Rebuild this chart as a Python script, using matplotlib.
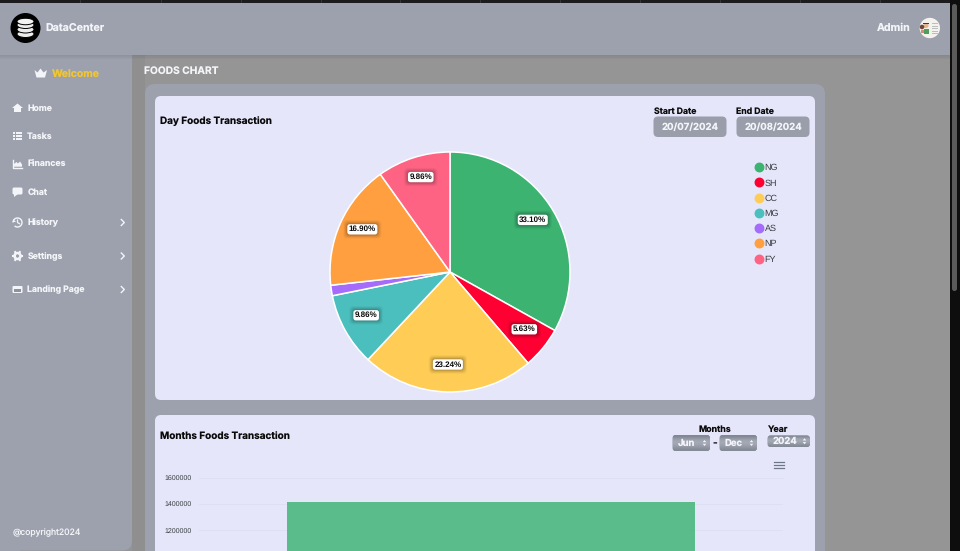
import numpy as np
import matplotlib
matplotlib.use("Agg")
import matplotlib.pyplot as plt
from matplotlib.patches import FancyBboxPatch, Rectangle, Circle, Polygon, Ellipse, Arc
from matplotlib.lines import Line2D

plt.rcParams['font.family'] = ['Inter', 'DejaVu Sans']
plt.rcParams['text.hinting'] = 'no_hinting'
plt.rcParams['text.hinting_factor'] = 1

# --- data ---
pie_labels = ['NG', 'SH', 'CC', 'MG', 'AS', 'NP', 'FY']
pie_values = [33.10, 5.63, 23.24, 9.86, 1.41, 16.90, 9.86]
pie_colors = ['#3CB371', '#FF0033', '#FFCC55', '#4BBFBD', '#A56BFA', '#FF9F40', '#FF6384']
bar_categories = ['Jun-Dec']
bar_values = [1415000]
y_ticks = [1200000, 1400000, 1600000]
menu_items = ['Home', 'Tasks', 'Finances', 'Chat', 'History', 'Settings', 'Landing Page']
menu_y = [108, 136, 164, 192, 222.5, 256, 289.5]

W, H = 960, 551
fig = plt.figure(figsize=(W/100, H/100), dpi=100, facecolor='#959595')
bg = fig.add_axes([0, 0, 1, 1], zorder=0)
bg.set_xlim(0, W); bg.set_ylim(H, 0); bg.axis('off')

GRAY = '#9CA1AD'; CARD = '#E5E6FA'; WHITE = '#F4F5F9'

def px(s):
    return s * 0.72

def rbox(ax, x0, y0, x1, y1, r, fc, z=1, ec='none', alpha=None):
    p = FancyBboxPatch((x0 + r, y0 + r), x1 - x0 - 2*r, y1 - y0 - 2*r,
                       boxstyle=f'round,pad={r},rounding_size={r}',
                       fc=fc, ec=ec, lw=0, zorder=z, alpha=alpha)
    ax.add_patch(p)
    return p

def txt(x, y, s, size, color='#111111', weight='bold', ha='left', ax=None, z=10):
    (ax or bg).text(x, y + 0.8, s, fontsize=px(size), color=color, fontweight=weight,
                    ha=ha, va='center', zorder=z)

# page frame
bg.add_patch(Rectangle((0, 0), W, 3, fc='#1c1c1e', ec='none', zorder=1))
for x in [80, 161, 241, 321, 400, 480, 560, 640, 720, 800, 880]:
    bg.plot([x, x], [0, 3], color='#3A3A3A', lw=0.6, zorder=1.1)
bg.add_patch(Rectangle((950, 0), 10, H, fc='#0E0E0E', ec='none', zorder=1))
rbox(bg, 952, 4, 957, 291, 2.4, '#5A5A5A', z=1.2)

# strip beside the sidebar
bg.add_patch(Rectangle((132, 55), 13, H, fc='#8F8F8F', ec='none', zorder=1))

# header + its shadow
for i in range(5):
    bg.add_patch(Rectangle((0, 54 + i), 950, 1, fc='#000000', alpha=0.10 - i*0.018, ec='none', zorder=2.4))
bg.add_patch(Rectangle((0, 3), 950, 51.5, fc=GRAY, ec='none', zorder=3))

# sidebar
bg.add_patch(Rectangle((0, 50), 132, 470, fc=GRAY, ec='none', zorder=2))
rbox(bg, 0, 500, 132, 550.5, 10, GRAY, z=2)
bg.add_patch(Rectangle((0, 500), 20, 51, fc=GRAY, ec='none', zorder=2))

# panel + cards
rbox(bg, 145, 84, 825, 590, 10, GRAY, z=1.5)
rbox(bg, 155, 96, 815, 400, 6, CARD, z=2)
rbox(bg, 155, 415, 815, 590, 6, CARD, z=2)

# logo
bg.add_patch(Circle((25.5, 28), 15, fc='#000000', ec='none', zorder=4))
for y in [34, 29.5, 25]:
    bg.add_patch(Ellipse((25.5, y), 17, 7, fc='#EDEDED', ec='#000000', lw=0.7, zorder=5))
bg.add_patch(Ellipse((25.5, 21.5), 17, 6.5, fc='#F4F4F4', ec='#000000', lw=0.7, zorder=5))
txt(45.5, 27.3, 'DataCenter', 10.6, WHITE)

# admin + avatar
txt(877, 27.3, 'Admin', 10.6, WHITE)
bg.add_patch(Circle((929.8, 28), 10.2, fc='#F4F2EE', ec='none', zorder=4))
bg.add_patch(Circle((926, 25.5), 2.6, fc='#E8B48E', ec='none', zorder=5))
bg.add_patch(Rectangle((923.3, 22.5), 5.4, 1.8, fc='#4A3A2C', ec='none', zorder=5.1))
bg.add_patch(Circle((922, 27), 2.3, fc='#6A4A38', ec='none', zorder=5))
bg.add_patch(Rectangle((924, 29), 5, 5, fc='#4E9D58', ec='none', zorder=5))
bg.add_patch(Rectangle((920.5, 29.5), 3.5, 3.5, fc='#D98A6A', ec='none', zorder=5))
for yy in [23, 25.5, 28, 30.5, 33]:
    bg.add_patch(Rectangle((932, yy), 5.5, 1.3, fc='#BDBDBD', ec='none', zorder=5))

# welcome
bg.add_patch(Polygon([(34.5, 70), (37.5, 72.5), (40.5, 68.5), (43.5, 72.5), (47, 70),
                      (45, 77.5), (36.5, 77.5)], fc=WHITE, ec='none', zorder=5))
txt(52, 73, 'Welcome', 10.4, '#F2C62F')
txt(144.5, 70.5, 'FOODS CHART', 10.2, WHITE)

# menu
for label, y in zip(menu_items, menu_y):
    txt(27.3, y - 0.6, label, 8.7, WHITE)
I = dict(fc=WHITE, ec='none', zorder=6)
# home
y = menu_y[0]
bg.add_patch(Polygon([(12, y), (17.5, y-4.5), (23, y), (21, y), (21, y+4), (14, y+4), (14, y)], **I))
# tasks
y = menu_y[1]
for d in [-3, 0, 3]:
    bg.add_patch(Rectangle((13, y+d-0.7), 2, 1.4, **I))
    bg.add_patch(Rectangle((16, y+d-0.6), 6, 1.2, **I))
# finances
y = menu_y[2]
bg.plot([13, 13, 22], [y-4, y+3.5, y+3.5], color=WHITE, lw=1, zorder=6)
bg.add_patch(Polygon([(14, y+2.7), (14, y), (16.5, y-2), (18, y-0.5), (20, y-2.5), (22, y+0.5), (22, y+2.7)], **I))
# chat
y = menu_y[3]
rbox(bg, 12.5, y-4.5, 22.5, y+2.5, 1.5, WHITE, z=6)
bg.add_patch(Polygon([(14, y+2), (14, y+5), (18, y+2)], **I))
# history
y = menu_y[4]
bg.add_patch(Arc((17.5, y), 9, 9, theta1=-180, theta2=130, color=WHITE, lw=1, zorder=6))
bg.plot([17.5, 17.5, 19.5], [y-2.5, y, y+1.2], color=WHITE, lw=0.9, zorder=6)
bg.add_patch(Polygon([(13, y-4), (13, y-1), (16, y-1)], **I))
# settings
y = menu_y[5]
bg.add_patch(Circle((17.5, y), 3, fc='none', ec=WHITE, lw=1.8, zorder=6))
for a in np.arange(0, 360, 60):
    c, s = np.cos(np.radians(a)), np.sin(np.radians(a))
    bg.plot([17.5 + 3*c, 17.5 + 4.6*c], [y + 3*s, y + 4.6*s], color=WHITE, lw=1.5, zorder=6)
# landing
y = menu_y[6]
rbox(bg, 12.5, y-3.5, 22.5, y+3.5, 1, WHITE, z=6)
bg.add_patch(Rectangle((14, y-1), 7, 3, fc='#8D929E', ec='none', zorder=7))
# chevrons
for y in menu_y[4:]:
    bg.plot([121.3, 124.3, 121.3], [y-3, y, y+3], color=WHITE, lw=1, zorder=6)

txt(12.5, 531.6, '@copyright2024', 8.6, WHITE, weight='normal')

# card headers
txt(160, 120, 'Day Foods Transaction', 9.95, '#0A0A0A')
txt(160, 436, 'Months Foods Transaction', 9.95, '#0A0A0A')
txt(653.5, 110.3, 'Start Date', 8.7, '#0A0A0A')
txt(736.5, 110.3, 'End Date', 8.7, '#0A0A0A')
for x0, x1, s in [(653.5, 726.5, '20/07/2024'), (736.5, 809.5, '20/08/2024')]:
    rbox(bg, x0, 116.5, x1, 137, 4.5, '#999EAA', z=4)
    txt((x0+x1)/2, 126.5, s, 9.6, WHITE, ha='center')

# selects
def select(x0, x1, y0, y1, s, tx):
    p = rbox(bg, x0, y0, x1, y1, 3, '#9398A4', z=4)
    g = np.array([[[0.50, 0.52, 0.57]], [[0.60, 0.62, 0.67]], [[0.65, 0.67, 0.72]],
                  [[0.63, 0.65, 0.70]], [[0.58, 0.60, 0.65]], [[0.52, 0.54, 0.59]]])
    im = bg.imshow(g, extent=(x0, x1, y1, y0), aspect='auto', zorder=4.5, interpolation='bicubic')
    im.set_clip_path(p)
    txt(tx, (y0+y1)/2 - 0.8, s, 9.5, WHITE, ha='left')
    ax_ = x1 - 5.5
    m = (y0+y1)/2
    bg.add_patch(Polygon([(ax_-1.8, m-0.8), (ax_+1.8, m-0.8), (ax_, m-3)], fc=WHITE, ec='none', zorder=6))
    bg.add_patch(Polygon([(ax_-1.8, m+0.8), (ax_+1.8, m+0.8), (ax_, m+3)], fc=WHITE, ec='none', zorder=6))

txt(714.5, 428.5, 'Months', 8.8, '#0A0A0A', ha='center')
txt(767.5, 428.5, 'Year', 8.8, '#0A0A0A')
select(672.5, 710, 435, 451, 'Jun', 678)
txt(715, 442.5, '-', 10, '#222222', ha='center')
select(719.5, 757, 435, 451, 'Dec', 725)
select(767.5, 810, 435.5, 447, '2024', 772.5)
bg.set_xlim(0, W); bg.set_ylim(H, 0)

# hamburger
for y in [462, 465, 468]:
    bg.plot([773.5, 784], [y, y], color='#6E7788', lw=0.9, zorder=6)

# --- pie ---
cx, cy, R = 450, 272, 120
pa = fig.add_axes([(cx-R)/W, 1-(cy+R)/H, 2*R/W, 2*R/H], zorder=2)
wedges, _ = pa.pie(pie_values, colors=pie_colors, startangle=90, counterclock=False, radius=1,
                   wedgeprops=dict(edgecolor='white', linewidth=1.1), frame=False)
pa.set_xlim(-1, 1); pa.set_ylim(-1, 1)
for w in wedges:
    w.set_clip_on(False)

cum = np.cumsum(pie_values) - np.array(pie_values)/2
LBL = dict(ha='center', va='center', fontsize=px(8), fontweight='bold',
           fontfamily='Liberation Sans', annotation_clip=False)
for v, c in zip(pie_values, cum):
    if v < 2:
        continue
    ang = np.radians(c / 100 * 360)
    xp, yp = 0.8*np.sin(ang), 0.8*np.cos(ang) + 3.5/R
    for pad, al in [(5.5, 0.04), (4.5, 0.06), (3.5, 0.08), (2.5, 0.10)]:
        pa.annotate(f'{v:.2f}%', (xp, yp), color=(0, 0, 0, 0), zorder=5,
                    bbox=dict(boxstyle=f'round,pad={pad/8},rounding_size=0.5',
                              fc=(0, 0, 0, al), ec='none'), **LBL)
    pa.annotate(f'{v:.2f}%', (xp, yp), color='#0A0A0A', zorder=6,
                bbox=dict(boxstyle='round,pad=0.18,rounding_size=0.3', fc='white', ec='none'), **LBL)

handles = [Line2D([], [], ls='none', marker='o', ms=px(8.5), color=c) for c in pie_colors]
fig.legend(handles, pie_labels, loc='upper left', bbox_to_anchor=(753/W, 1-162/H), frameon=False,
           prop=dict(size=px(9), family='Liberation Sans'), labelcolor='#373D3F',
           labelspacing=0.76, handlelength=1.0, handletextpad=0.1, borderpad=0.2, borderaxespad=0)

# --- bar ---
top_y, bot_y = 477.5, 551
left, right = 199, 783
per_px = 200000 / 26.3
ba = fig.add_axes([left/W, 0, (right-left)/W, (bot_y-top_y)/H], zorder=2)
ba.patch.set_alpha(0)
ba.bar(bar_categories, bar_values, width=0.7, color='#3CB371', alpha=0.82, zorder=3)
ba.set_xlim(-0.5, 0.5)
ba.set_ylim(1600000 - (bot_y-top_y)*per_px, 1600000)
ba.set_yticks(y_ticks, [str(t) for t in y_ticks], fontsize=px(7.1), color='#373D3F',
              fontfamily='Liberation Sans')
ba.set_xticks([])
ba.tick_params(axis='y', length=0, pad=5)
ba.grid(axis='y', color='#DFDFF3', lw=0.7, zorder=1)
for s in ba.spines.values():
    s.set_visible(False)
ba.yaxis.get_gridlines()[-1].set_clip_on(False)

fig.savefig('out.png', dpi=100, facecolor=fig.get_facecolor())
